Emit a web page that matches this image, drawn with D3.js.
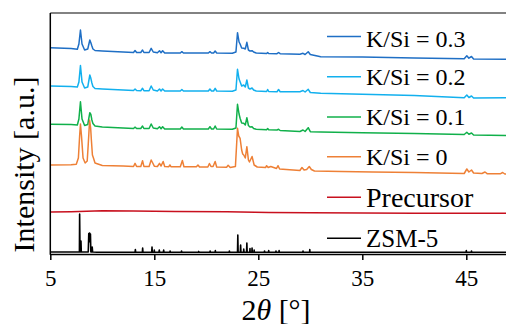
<!DOCTYPE html>
<html><head><meta charset="utf-8">
<script src="https://cdn.jsdelivr.net/npm/d3@7"></script>
<style>body{margin:0;background:#fff}svg{display:block}svg text{font-family:"Liberation Serif","Times New Roman",Times,serif;fill:#000}</style>
</head><body><svg id="c" width="506" height="324"></svg>
<script>
// Stacked XRD patterns: [2theta, intensity (a.u., offset included)]
const seriesNames = ["K/Si = 0.3","K/Si = 0.2","K/Si = 0.1","K/Si = 0","Precursor","ZSM-5"];
const seriesColors = ["#1F6FC5","#12B0EE","#10B04A","#EE8036","#C8101E","#000000"];
const xTicks = [5,15,25,35,45];

const ks03 = [[5,206.3],[7,205.6],[7.6,204.8],[7.75,210],[7.9,224],[8.05,210],[8.3,204],[8.6,205],[8.8,214],[8.9,211.3],[9.0,208],[9.1,205],[9.3,203.5],[10,203],[12,202],[13,201.5],[13.15,203.5],[13.3,201.5],[13.7,201.5],[13.87,204],[14,201.5],[14.5,201.5],[14.7,205.7],[14.9,202],[15.3,201.3],[15.5,203.3],[15.65,201.3],[15.8,203.3],[16,201],[17.5,201],[17.65,202.3],[17.8,201],[20.2,201],[20.35,202.3],[20.5,201],[20.7,201],[20.85,203],[21,201],[22.5,200.8],[22.85,202],[23,221.3],[23.15,212],[23.25,210],[23.4,206],[23.6,205.7],[23.75,205],[23.9,211.7],[24.05,204],[24.2,203],[24.4,203.3],[24.55,202],[24.8,201],[25.8,200.5],[25.9,201.5],[26,200.5],[26.8,200.3],[26.95,201.5],[27.1,200.3],[29,199.7],[29.3,200.7],[29.5,199.5],[29.8,202.3],[30,199.5],[31,197.3],[35,197],[40,196],[44.8,195.3],[45.05,198.3],[45.25,195.8],[45.5,197.5],[45.7,195],[49,194.7]];

const ks02 = [[5,168],[7,167.6],[7.6,167],[7.75,172],[7.9,188.5],[8.05,172],[8.3,166],[8.6,167],[8.8,179],[8.9,175.7],[9.0,171],[9.1,167.5],[9.3,165.5],[10,165],[12,164],[13,163.5],[13.15,165],[13.3,163.5],[13.7,163.3],[13.87,165.7],[14,163.3],[14.5,163.3],[14.7,168],[14.9,164],[15.3,163],[15.5,165],[15.65,163],[15.8,165],[16,163],[17.5,163],[17.65,164.5],[17.8,163],[20.2,163],[20.35,165],[20.5,163],[20.7,163],[20.85,165.7],[21,163],[22.5,162.8],[22.85,164],[23,184.7],[23.15,175],[23.25,172.3],[23.4,168],[23.6,169],[23.75,167],[23.9,174],[24.05,166],[24.2,165],[24.4,166],[24.55,164],[24.8,163],[25.8,162.5],[25.9,164.5],[26,162.5],[26.8,162.3],[26.95,164.5],[27.1,162.3],[29,162.3],[29.3,163.5],[29.5,162],[29.8,164.7],[30,161.5],[31,160.7],[35,159.8],[40,158.5],[44.8,156.2],[45.05,159],[45.25,156.5],[45.5,158],[45.7,156],[49,156.3]];

const ks01 = [[5,129.7],[7,129.5],[7.6,129],[7.75,135],[7.9,152.3],[8.05,135],[8.3,128.5],[8.6,129.5],[8.8,141.3],[8.9,139.5],[9.0,134],[9.1,130.5],[9.3,128],[10,127],[12,126],[13,125.5],[13.15,126.8],[13.3,125.5],[13.7,125.5],[13.87,128],[14,125.5],[14.5,125.5],[14.7,130],[14.9,126],[15.3,125.2],[15.5,127.3],[15.65,125.2],[15.8,127.3],[16,125],[17.5,125],[17.65,127],[17.8,125],[20.2,125],[20.35,127.3],[20.5,125],[20.7,125],[20.85,128],[21,125],[22.5,124.7],[22.85,126],[23,149.7],[23.15,140],[23.25,135.7],[23.4,131],[23.6,130.7],[23.75,129],[23.9,136.3],[24.05,128.5],[24.2,127],[24.4,127.3],[24.55,125.5],[24.8,124.8],[25.8,124.3],[25.9,125.5],[26,124.3],[26.8,124],[26.95,124.7],[27.1,123.5],[29,122.5],[29.3,124],[29.5,122.5],[29.8,126.3],[30,122.3],[31,122],[35,121.3],[40,120.5],[44.8,119.5],[45.05,121.7],[45.25,119.8],[45.5,121],[45.7,119],[49,118.5]];

const ks00 = [[5,89],[7,89.3],[7.5,89.8],[7.7,96],[7.82,118],[7.9,130],[8.0,118],[8.15,96],[8.35,91],[8.55,93],[8.65,110],[8.7,119],[8.78,134],[8.88,126],[8.95,114],[9.05,99],[9.15,96],[9.3,91],[10,88.5],[12,88],[13,87.5],[13.15,90.7],[13.3,87.5],[13.7,87.5],[13.87,93.3],[14,87.6],[14.5,87.6],[14.7,94],[14.85,91],[15.0,87.8],[15.3,87.5],[15.5,90.7],[15.65,88],[15.85,92.5],[16.0,87.5],[16.4,87.3],[16.5,89],[16.6,87.3],[17.5,87.3],[17.7,93.5],[17.85,87.3],[19.05,87.2],[19.2,89],[19.35,87],[20.15,87],[20.3,90.5],[20.45,87.5],[20.65,87.5],[20.85,92.5],[21,87],[21.95,86.7],[22.1,88.7],[22.3,86.5],[22.8,87.5],[23,125.7],[23.12,118],[23.25,115.7],[23.4,104],[23.5,100],[23.6,99],[23.75,96],[23.9,107.3],[24.05,94],[24.15,92],[24.4,97.5],[24.6,89],[24.9,87],[25.7,86.5],[25.8,88.3],[25.95,86.5],[26.2,87.5],[26.75,85.5],[26.9,88.3],[27.05,85],[29,83.5],[29.2,86.5],[29.4,84],[29.65,84.5],[29.9,87.5],[30.1,84.5],[30.4,83],[33,82.5],[36,82],[40,81.5],[44.8,80.5],[45.05,85],[45.25,82],[45.5,84],[45.7,81],[46.5,80.5],[46.8,82],[47,80.3],[48.3,80.3],[48.5,81.5],[48.7,80],[49,80]];

const precursor = [[5,42],[7,42.3],[10,43.3],[13,43],[17,42.6],[22,42.3],[26,41.6],[30,41.2],[35,41],[40,40.8],[49,40.7]];

const zsm5 = [[5,2],[7.7,2],[7.8,2],[7.82,40],[7.86,2],[7.93,2],[7.95,13],[7.98,2],[8.6,2],[8.65,2],[8.7,20.5],[8.73,13],[8.78,21],[8.82,12],[8.86,20],[8.9,2],[9.0,2],[9.03,7],[9.07,2],[9.5,1.8],[12,1.8],[13.15,1.8],[13.18,4.5],[13.21,1.8],[13.85,1.8],[13.88,6],[13.91,1.8],[14.75,1.8],[14.78,7],[14.81,1.8],[14.98,1.8],[15.0,4],[15.02,1.8],[15.45,1.8],[15.48,4],[15.51,1.8],[15.87,1.8],[15.9,4],[15.93,1.8],[16.5,1.8],[16.52,3],[16.54,1.8],[17.6,1.8],[17.62,3],[17.64,1.8],[19.25,1.8],[19.27,2.6],[19.29,1.8],[20.35,1.8],[20.37,3],[20.39,1.8],[20.85,1.8],[20.87,3.5],[20.89,1.8],[22.2,1.8],[22.22,3],[22.24,1.8],[23.0,1.8],[23.03,19],[23.06,1.8],[23.27,1.8],[23.3,9],[23.33,1.8],[23.58,1.8],[23.6,5],[23.63,1.8],[23.87,1.8],[23.9,11],[23.93,1.8],[24.18,1.8],[24.2,5.5],[24.22,1.8],[24.38,1.8],[24.4,6],[24.42,1.8],[24.58,1.8],[24.6,4],[24.62,1.8],[25.58,1.8],[25.6,3],[25.62,1.8],[25.98,1.8],[26.0,3.5],[26.02,1.8],[26.68,1.8],[26.7,3],[26.72,1.8],[26.98,1.8],[27.0,3.5],[27.02,1.8],[29.28,1.8],[29.3,3],[29.32,1.8],[29.93,1.8],[29.95,4.5],[29.97,1.8],[35,1.8],[44.98,1.8],[45.0,3.5],[45.02,1.8],[45.48,1.8],[45.5,3],[45.52,1.8],[49,1.8]];

const allSeries = [ks03, ks02, ks01, ks00, precursor, zsm5];

const svg = d3.select("#c");
const m = {l:50.3, t:13, b:254, r:507.9};
const x = d3.scaleLinear().domain([5,49]).range([m.l, m.r]);
const y = d3.scaleLinear().domain([0,241]).range([m.b, m.t]);

// top border
svg.append("line").attr("x1",m.l).attr("x2",506).attr("y1",m.t).attr("y2",m.t)
  .attr("stroke","#595959").attr("stroke-width",1.5);

const line = d3.line().x(d=>x(d[0])).y(d=>y(d[1]));
svg.append("clipPath").attr("id","pc").append("rect")
  .attr("x",m.l).attr("y",m.t).attr("width",506-m.l).attr("height",m.b-m.t);
const g = svg.append("g").attr("clip-path","url(#pc)");
allSeries.forEach((s,i)=>{
  g.append("path").datum(s).attr("d",line).attr("fill","none")
   .attr("stroke",seriesColors[i]).attr("stroke-width",i===5?1.6:1.5)
   .attr("stroke-linejoin","round");
});

// x axis
const xa = svg.append("g").attr("transform",`translate(0,${m.b})`)
  .call(d3.axisBottom(x).tickValues(xTicks).tickSize(6).tickPadding(10).tickSizeOuter(0));
xa.attr("font-family",null).attr("font-size",null);
xa.select(".domain").attr("stroke","#000").attr("stroke-width",1.5);
xa.selectAll(".tick line").attr("stroke","#000").attr("stroke-width",1.5);
xa.selectAll(".tick text").attr("font-size",23).attr("fill","#000").attr("dy","0.71em");
// left axis
svg.append("line").attr("x1",m.l).attr("x2",m.l).attr("y1",m.t).attr("y2",m.b+0.75)
  .attr("stroke","#000").attr("stroke-width",1.5);

// axis titles
const xt = svg.append("text").attr("x",276).attr("y",320).attr("text-anchor","middle").attr("font-size",30);
xt.append("tspan").text("2");
xt.append("tspan").attr("font-style","italic").text("θ");
xt.append("tspan").text(" [°]");
svg.append("text").attr("transform","translate(34,164.5) rotate(-90)").attr("text-anchor","middle")
  .attr("font-size",30).text("Intensity [a.u.]");

// legend
const legY = [36.5,76.7,117,156.7,197.3,238.3];
const legBase = [46.7,85.3,125,165,206.7,246.7];
const legSize = [24,24,24,24,28,25];
seriesNames.forEach((n,i)=>{
  svg.append("line").attr("x1",327).attr("x2",361).attr("y1",legY[i]).attr("y2",legY[i])
    .attr("stroke",seriesColors[i]).attr("stroke-width",1.5);
  svg.append("text").attr("x",366).attr("y",legBase[i]).attr("font-size",legSize[i]).text(n);
});
</script></body></html>
